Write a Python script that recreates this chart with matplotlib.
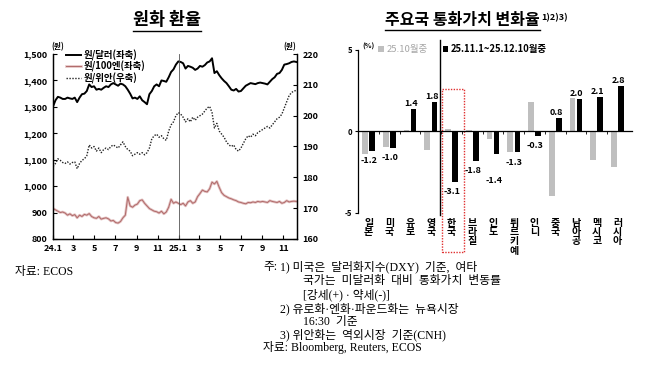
import numpy as np
import pandas as pd
import matplotlib
matplotlib.use('Agg')
import matplotlib.pyplot as plt
import matplotlib.patheffects as pe
from matplotlib.patches import Rectangle
from matplotlib.lines import Line2D

plt.rcParams['font.family'] = ['Noto Sans CJK KR', 'DejaVu Sans']
plt.rcParams['axes.unicode_minus'] = False

# ---- left chart data: weekly readings (Tue) from 2024-01-02 to 2025-12-09
dates = pd.date_range('2024-01-02', '2025-12-09', freq='7D')

usd = [1302, 1325, 1338, 1335, 1330,
       1330, 1335, 1332, 1330,
       1335, 1318, 1335, 1348,
       1350, 1360, 1385, 1375, 1378,
       1365, 1368, 1365, 1372,
       1378, 1375, 1385, 1390,
       1385, 1380, 1388, 1385, 1378,
       1365, 1350, 1332, 1335,
       1330, 1340, 1325, 1318,
       1310, 1348, 1360, 1378, 1385,
       1378, 1400, 1398, 1395,
       1412, 1432, 1442, 1460, 1472,
       1470, 1465, 1445, 1455,
       1452, 1448, 1440, 1445,
       1455, 1452, 1458, 1468,
       1472, 1484, 1428, 1435, 1420,
       1408, 1398, 1390, 1378,
       1365, 1362, 1368, 1358,
       1360, 1370, 1380, 1385, 1390,
       1388, 1386, 1390, 1392,
       1390, 1388, 1385, 1395, 1405,
       1412, 1425, 1428, 1440,
       1460, 1462, 1465, 1470,
       1472, 1470]

jpy100 = [915, 910, 905, 900, 902,
          898, 890, 895, 888,
          892, 880, 890, 885,
          893, 890, 896, 885, 880,
          878, 885, 875, 878,
          880, 876, 868, 870,
          862, 860, 866, 880, 890,
          958, 925, 920, 928,
          932, 945, 948, 935,
          925, 915, 910, 905, 903,
          898, 905, 895, 902,
          920, 950, 935, 940, 935,
          930, 935, 925, 940,
          945, 935, 940, 960,
          972, 985, 980, 978,
          990, 1015, 1008, 1018, 995,
          975, 965, 960, 955,
          952, 948, 945, 940,
          938, 935, 933, 938, 937,
          940, 938, 942, 940,
          942, 940, 938, 945, 942,
          940, 938, 942, 935,
          938, 945, 940, 942,
          943, 942]

cny = [183.5, 184.5, 186.0, 185.5, 184.8,
       184.5, 185.0, 184.3, 184.8,
       185.0, 182.8, 184.5, 185.5,
       186.0, 187.0, 190.5, 189.5, 190.0,
       188.5, 189.5, 188.0, 189.0,
       189.5, 189.0, 190.0, 190.5,
       190.0, 189.5, 190.5, 191.5, 190.0,
       189.0, 188.5, 187.0, 187.5,
       188.0, 187.5, 188.0, 187.3,
       188.0, 189.5, 192.5, 193.5, 194.0,
       193.0, 193.5, 192.5, 192.0,
       195.0, 197.0, 198.0, 200.0, 201.0,
       200.5, 199.5, 198.0, 199.0,
       198.0, 199.5, 198.5, 199.5,
       200.0, 200.5, 201.5, 202.5,
       203.0, 201.0, 196.0, 197.5, 195.0,
       194.0, 193.0, 191.5, 190.5,
       190.0, 190.5, 189.0, 188.5,
       189.5, 191.0, 192.5, 193.5, 193.0,
       194.0, 193.5, 194.5, 195.0,
       195.5, 196.0, 196.5, 196.0, 197.0,
       198.0, 199.0, 199.5, 200.5,
       202.5, 204.5, 206.5, 207.5,
       208.0, 208.2]

month_ticks = pd.date_range('2024-01-01', '2025-11-01', freq='2MS')
month_labels = ['24.1', '3', '5', '7', '9', '11', '25.1', '3', '5', '7', '9', '11']

# ---- right chart data
countries = ['일본', '미국', '유로', '영국', '한국', '브라질', '인도', '튀르키예',
             '인니', '중국', '남아공', '멕시코', '러시아']
oct_chg = [-1.4, -0.95, 0.1, -1.15, 0.15, 0.1, -0.45, -1.25, 1.8, -3.95, 2.05, -1.75, -2.2]
recent_chg = [-1.2, -1.0, 1.4, 1.8, -3.1, -1.8, -1.4, -1.3, -0.3, 0.8, 2.0, 2.1, 2.8]

fig = plt.figure(figsize=(6.7, 3.86), dpi=100)

# ================= left: 원화 환율
ax = fig.add_axes([0.0787, 0.381, 0.3646, 0.479])
ax2 = ax.twinx()

l1, = ax.plot(dates, usd, color='black', lw=1.4, label='원/달러(좌축)')
l2, = ax.plot(dates, jpy100, color='#b06a6a', lw=0.7, label='원/100엔(좌축)',
              path_effects=[pe.Stroke(linewidth=1.9, foreground='#e3c1c1'), pe.Normal()])
l3, = ax2.plot(dates, cny, color='#222222', lw=1.0, ls=(0, (1, 1.1)), label='원/위안(우축)')

ax.axvline(pd.Timestamp('2025-01-01'), color='#555555', lw=0.6)

ax.set_xlim(pd.Timestamp('2024-01-01'), pd.Timestamp('2025-12-11'))
ax.set_ylim(800, 1500)
ax2.set_ylim(160, 220)
ax.set_yticks(np.arange(800, 1501, 100))
ax.set_yticklabels([f'{v:,}' for v in range(800, 1501, 100)])
ax2.set_yticks(np.arange(160, 221, 10))
ax.set_xticks(month_ticks)
ax.set_xticklabels(month_labels)

for a in (ax, ax2):
    a.spines['top'].set_visible(False)
    for s in a.spines.values():
        s.set_linewidth(0.9)
    a.tick_params(direction='in', length=3, width=0.8, labelsize=6.5, pad=4)
    for lb in a.get_xticklabels() + a.get_yticklabels():
        lb.set_fontweight('bold')

ax.text(-0.005, 1.015, '(원)', transform=ax.transAxes, fontsize=5.5, fontweight='bold',
        ha='left', va='bottom')
ax2.text(0.995, 1.015, '(원)', transform=ax2.transAxes, fontsize=5.5, fontweight='bold',
         ha='right', va='bottom')

leg = ax.legend(handles=[l1, l2, l3], loc='upper left', bbox_to_anchor=(0.055, 1.025),
                frameon=False, prop={'size': 6.8, 'weight': 'bold'}, handlelength=1.6,
                handletextpad=0.3, labelspacing=0.05, borderaxespad=0, borderpad=0)

# ================= right: 주요국 통화가치 변화율
bx = fig.add_axes([0.534, 0.449, 0.409, 0.4215])
x = np.arange(len(countries))
w = 0.27
bx.bar(x - 0.17, oct_chg, w, color='#bfbfbf', label='25.10월중')
bx.bar(x + 0.17, recent_chg, w, color='black', label='25.11.1~25.12.10월중')

bx.set_xlim(-0.52, 12.69)
bx.set_ylim(-5, 5)
bx.set_yticks([-5, 0, 5])
bx.set_yticklabels(['-5', '0', '5'])
bx.spines['top'].set_visible(False)
bx.spines['right'].set_visible(False)
bx.spines['bottom'].set_position(('data', 0))
bx.spines['left'].set_linewidth(0.9)
bx.spines['bottom'].set_linewidth(0.9)
bx.tick_params(axis='y', direction='out', length=2, labelsize=5.5, pad=2)
for lb in bx.get_yticklabels():
    lb.set_fontweight('bold')
bx.set_xticks(x)
bx.set_xticklabels([])
bx.tick_params(axis='x', which='major', length=0)
bx.set_xticks(x[:-1] + 0.5, minor=True)
bx.tick_params(axis='x', which='minor', direction='out', length=2, width=0.6)

bx.text(0.015, 1.0, '(%)', transform=bx.transAxes, fontsize=5, fontweight='bold',
        ha='left', va='bottom')

for xi, name in zip(x, countries):
    bx.text(xi, -0.033, '\n'.join(name), transform=bx.get_xaxis_transform(),
            ha='center', va='top', fontsize=7.2, fontweight='bold', linespacing=0.9)

label_dy = {'인도': -19}
for xi, name, v in zip(x, countries, recent_chg):
    dy = label_dy.get(name, -7 if v < 0 else 4)
    bx.annotate(f'{v:.1f}', (xi + 0.17, v), xytext=(-2, dy), textcoords='offset points',
                ha='center', va='center', fontsize=6.5, fontweight='bold')

# separator and highlight box
bx.plot([3.44, 3.44], [-5.15, 5.6], color='black', lw=1.0, clip_on=False)
k = countries.index('한국')
bx.add_patch(Rectangle((k - 0.47, -7.42), 1.06, 10.02, fill=False, ec='#e03030',
                       lw=1.0, ls=(0, (1, 1)), clip_on=False))

hnd, lab = bx.get_legend_handles_labels()
bleg = bx.legend(hnd, lab, loc='upper left', bbox_to_anchor=(0.075, 1.035), ncol=2,
                 frameon=False, prop={'size': 6.8, 'weight': 'bold'}, handlelength=0.6,
                 handleheight=0.6, handletextpad=0.25, columnspacing=1.6,
                 borderaxespad=0, borderpad=0)
bleg.get_texts()[0].set_color('#a6a6a6')
bleg.get_texts()[0].set_fontweight('normal')

# ================= titles with underline
t1 = fig.text(0.249, 0.948, '원화 환율', ha='center', va='center', fontsize=12.5,
              fontweight='bold')
t2 = fig.text(0.575, 0.948, '주요국 통화가치 변화율', ha='left', va='center', fontsize=11.5,
              fontweight='bold')

fig.canvas.draw()
r = fig.canvas.get_renderer()
inv = fig.transFigure.inverted()
for t in (t1, t2):
    bb = t.get_window_extent(r)
    (x0, y0), (x1, y1) = inv.transform([(bb.x0, bb.y0), (bb.x1, bb.y1)])
    fig.add_artist(Line2D([x0, x1], [y0 - 0.006, y0 - 0.006], color='black', lw=1.0))
bb2 = t2.get_window_extent(r)
xs, ys = inv.transform((bb2.x1, bb2.y1))
fig.text(xs + 0.002, ys - 0.004, '1)2)3)', ha='left', va='top', fontsize=6.5,
         fontweight='bold')

# ================= notes
serif = ['Liberation Serif', 'Noto Sans CJK KR']
fig.text(0.022, 0.295, '자료: ECOS', family=serif, fontsize=8.5, va='center')

notes = [
    (0.393, '주:'),
    (0.418, '1) 미국은  달러화지수(DXY)  기준,  여타'),
    (0.452, '국가는  미달러화  대비  통화가치  변동률'),
    (0.452, '[강세(+) · 약세(-)]'),
    (0.418, '2) 유로화·엔화·파운드화는  뉴욕시장'),
    (0.452, '16:30  기준'),
    (0.418, '3) 위안화는  역외시장  기준(CNH)'),
]
ys_note = [0.308, 0.271, 0.235, 0.200, 0.167, 0.131]
fig.text(notes[0][0], ys_note[0], notes[0][1], family=serif, fontsize=8.5, va='center')
for (xn, s), yn in zip(notes[1:], ys_note):
    fig.text(xn, yn, s, family=serif, fontsize=8.5, va='center')
fig.text(0.393, 0.100, '자료: Bloomberg, Reuters, ECOS', family=serif, fontsize=8.5,
         va='center')

fig.savefig('out.png', dpi=100)
